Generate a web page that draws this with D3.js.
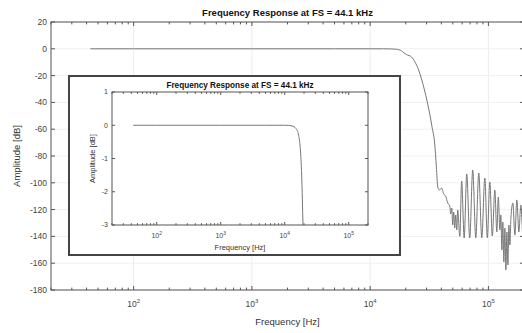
<!DOCTYPE html>
<html>
<head>
<meta charset="utf-8">
<script src="https://cdn.jsdelivr.net/npm/d3@7"></script>
<style>
  body { margin: 0; background: #fff; }
  svg { display: block; font-family: "Liberation Sans", Arial, sans-serif; }
</style>
</head>
<body>
<div id="chart"></div>
<script>
// frequency points [Hz] and amplitude [dB]
var freqHz = [43, 100, 1000, 5000, 10000, 13000, 15000, 16500, 17500, 18400, 19300, 20300,
  22400, 24000, 25700, 27200, 28800, 30300, 31800, 33400, 35100, 36300, 37300,
  38700, 40300, 41900, 43500, 45300, 47100, 48000, 49000, 49900, 50900, 51900, 52900, 54000, 55000,
  57300, 59400, 62400, 65600, 69500, 73700, 78200, 82900, 87900, 93300, 97900, 102800, 107900,
  113300, 117800, 121300, 125000, 127400, 130000, 132500, 135100, 137700, 140600, 143300, 146200,
  149000, 152000, 155000, 161000, 167500, 174000, 181000, 188000, 196000, 200000];
var ampDb = [0, 0, 0, 0, 0, -0.02, -0.1, -0.3, -0.7, -1.5, -3, -4.3,
  -6.1, -10, -15.8, -22.5, -30.7, -39, -47.9, -58.5, -70.3, -88, -103.1,
  -105.4, -103.9, -108.4, -109.9, -115.1, -117.3, -123.3, -118.8, -131.5, -121.8, -133.7, -124, -135.2, -120.3,
  -140, -98.7, -141.2, -93.4, -141.2, -90.4, -141, -92.7, -141, -96.4, -141, -99.4, -139.7,
  -105.4, -136.7, -110.6, -135.2, -124, -150.1, -129.3, -159.1, -133.7, -165.1, -136.7, -161.3,
  -131.5, -146.4, -126.3, -115.1, -139, -112.8, -136.7, -116.6, -139, -125];

var title = 'Frequency Response at FS = 44.1 kHz';
var xTicksMain = [100, 1000, 10000, 100000];
var yTicksMain = [20, 0, -20, -40, -60, -80, -100, -120, -140, -160, -180];
var yTicksInset = [1, 0, -1, -2, -3];

var data = freqHz.map((f, i) => ({ f: f, a: ampDb[i] }));

var svg = d3.select('#chart')
  .append('svg')
  .attr('width', 522)
  .attr('height', 333);

var minorTicks = [];
[10, 100, 1000, 10000, 100000].forEach(d => {
  for (var k = 2; k <= 9; k++) {
    if (d * k >= 20 && d * k <= 200000) minorTicks.push(d * k);
  }
});

function drawAxes(g, x, y, opt) {
  var x0 = x.range()[0], x1 = x.range()[1];
  var y0 = y.range()[0], y1 = y.range()[1];

  // faint grid
  if (opt.grid) {
    g.selectAll('.gx').data(xTicksMain).join('line')
      .attr('x1', d => x(d)).attr('x2', d => x(d))
      .attr('y1', y0).attr('y2', y1)
      .attr('stroke', '#ececec');
    g.selectAll('.gy').data(opt.yTicks).join('line')
      .attr('x1', x0).attr('x2', x1)
      .attr('y1', d => y(d)).attr('y2', d => y(d))
      .attr('stroke', '#f0f0f0');
  }

  // box
  g.append('rect')
    .attr('x', x0).attr('y', y1)
    .attr('width', x1 - x0).attr('height', y0 - y1)
    .attr('fill', 'none').attr('stroke', '#555').attr('stroke-width', 1);

  // major and minor ticks on all four sides, pointing inward
  var ticks = g.append('g').attr('stroke', '#555');
  xTicksMain.concat(minorTicks).forEach(d => {
    var len = xTicksMain.indexOf(d) >= 0 ? opt.tick : opt.tick * 0.6;
    ticks.append('line').attr('x1', x(d)).attr('x2', x(d)).attr('y1', y0).attr('y2', y0 - len);
    ticks.append('line').attr('x1', x(d)).attr('x2', x(d)).attr('y1', y1).attr('y2', y1 + len);
  });
  opt.yTicks.forEach(d => {
    ticks.append('line').attr('x1', x0).attr('x2', x0 + opt.tick).attr('y1', y(d)).attr('y2', y(d));
    ticks.append('line').attr('x1', x1).attr('x2', x1 - opt.tick).attr('y1', y(d)).attr('y2', y(d));
  });

  // y labels
  g.selectAll('.yl').data(opt.yTicks).join('text')
    .attr('x', x0 - 4)
    .attr('y', d => y(d))
    .attr('dy', '0.35em')
    .attr('text-anchor', 'end')
    .attr('font-size', opt.fs)
    .attr('fill', '#444')
    .text(d => d);

  // x labels as 10^n
  xTicksMain.forEach(d => {
    var t = g.append('text')
      .attr('x', x(d))
      .attr('y', y0 + opt.fs + opt.xtickDy)
      .attr('text-anchor', 'middle')
      .attr('font-size', opt.fs)
      .attr('fill', '#444');
    t.append('tspan').text('10');
    t.append('tspan')
      .attr('dy', -opt.fs * 0.45)
      .attr('font-size', opt.fs * 0.7)
      .text(Math.round(Math.log10(d)));
  });

  // titles
  g.append('text')
    .attr('x', (x0 + x1) / 2).attr('y', y1 - opt.titleDy)
    .attr('text-anchor', 'middle')
    .attr('font-size', opt.titleFs)
    .attr('font-weight', 'bold')
    .attr('fill', '#111')
    .text(title);
  g.append('text')
    .attr('x', (x0 + x1) / 2).attr('y', y0 + opt.xlabDy)
    .attr('text-anchor', 'middle')
    .attr('font-size', opt.labFs)
    .attr('fill', '#333')
    .text('Frequency [Hz]');
  g.append('text')
    .attr('transform', 'rotate(-90)')
    .attr('x', -(y0 + y1) / 2).attr('y', opt.ylabX)
    .attr('text-anchor', 'middle')
    .attr('font-size', opt.labFs)
    .attr('fill', '#333')
    .text('Amplitude [dB]');
}

// main axes
var xMain = d3.scaleLog().domain([20, 200000]).range([51, 524]);
var yMain = d3.scaleLinear().domain([-180, 20]).range([290, 22]);

var main = svg.append('g');
drawAxes(main, xMain, yMain, {
  grid: true, yTicks: yTicksMain, tick: 4, fs: 8.5, titleFs: 9.5, labFs: 9.5,
  xlabDy: 35, ylabX: 20, titleDy: 6, xtickDy: 8.5
});

var line = d3.line().curve(d3.curveMonotoneX);

main.append('path')
  .attr('d', line.x(d => xMain(d.f)).y(d => yMain(d.a))(data))
  .attr('fill', 'none')
  .attr('stroke', '#777')
  .attr('stroke-width', 1);

// inset
svg.append('rect')
  .attr('x', 69).attr('y', 76)
  .attr('width', 331).attr('height', 179)
  .attr('fill', '#fff')
  .attr('stroke', '#444')
  .attr('stroke-width', 2);

var xIn = d3.scaleLog().domain([20, 200000]).range([112, 368]);
var yIn = d3.scaleLinear().domain([-3, 1]).range([225, 92]);

var inset = svg.append('g');
drawAxes(inset, xIn, yIn, {
  grid: false, yTicks: yTicksInset, tick: 3, fs: 7, titleFs: 8.2, labFs: 7.5,
  xlabDy: 25, ylabX: 95, titleDy: 4, xtickDy: 6
});

svg.append('clipPath').attr('id', 'clipIn')
  .append('rect').attr('x', 112).attr('y', 92).attr('width', 256).attr('height', 133);

inset.append('path')
  .attr('clip-path', 'url(#clipIn)')
  .attr('d', d3.line().curve(d3.curveMonotoneX).x(d => xIn(d.f)).y(d => yIn(d.a))(data))
  .attr('fill', 'none')
  .attr('stroke', '#777')
  .attr('stroke-width', 1);
</script>
</body>
</html>
